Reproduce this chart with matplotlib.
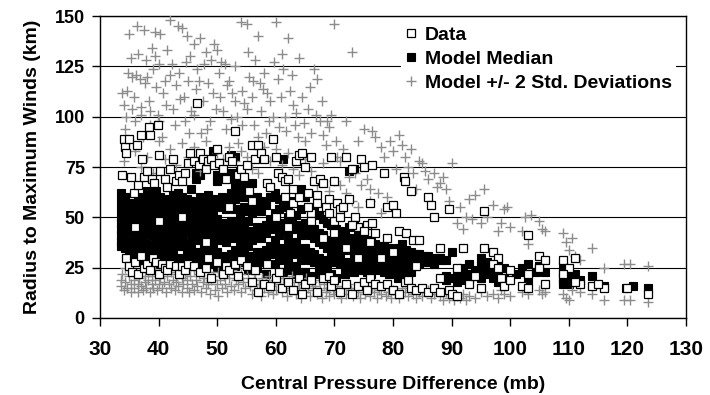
import matplotlib
matplotlib.use("Agg")
import matplotlib.pyplot as plt
from matplotlib.lines import Line2D

plt.rcParams['font.family'] = ['Liberation Sans', 'DejaVu Sans']
plt.rcParams['font.weight'] = 'bold'

# ---------------- data ----------------
# Model median: (pressure difference, radii) read column by column
median_cols = [
    (33.5, [62, 58, 54, 50, 47, 44, 41, 38, 36]),
    (34.2, [60, 55, 52, 48, 45, 39, 35]),
    (35.0, [57, 53, 49, 46, 43, 37, 33, 30]),
    (35.8, [56, 52, 45, 41, 38, 34]),
    (36.5, [60, 55, 51, 47, 40, 36, 33, 29]),
    (37.3, [58, 53, 46, 42, 39, 31]),
    (38.0, [63, 59, 55, 51, 48, 44, 37, 33, 29]),
    (38.8, [61, 57, 49, 45, 41, 34]),
    (39.5, [63, 58, 54, 50, 43, 39, 35, 31, 27]),
    (40.3, [60, 56, 48, 44, 40, 33]),
    (41.0, [57, 53, 49, 42, 38, 35, 30]),
    (41.8, [59, 55, 47, 43, 34, 29]),
    (42.5, [61, 57, 53, 49, 41, 37, 33]),
    (43.3, [62, 58, 50, 46, 42, 38, 30]),
    (44.0, [60, 56, 52, 44, 40, 36, 27]),
    (44.8, [59, 51, 47, 43, 35, 31]),
    (45.5, [64, 58, 54, 46, 42, 38, 34]),
    (46.3, [72, 69, 57, 53, 49, 41, 33, 29]),
    (47.0, [74, 71, 60, 55, 47, 43, 39, 31, 26]),
    (47.8, [58, 54, 50, 42, 38, 34, 27]),
    (48.5, [61, 56, 48, 44, 40, 32, 28]),
    (49.3, [83, 59, 55, 51, 43, 39, 35, 27]),
    (50.0, [71, 68, 57, 49, 45, 41, 33, 29, 25]),
    (50.8, [70, 60, 55, 47, 43, 39, 31, 27]),
    (51.5, [58, 54, 46, 42, 38, 30, 26]),
    (52.3, [81, 72, 62, 56, 48, 44, 40, 32, 28]),
    (53.0, [80, 69, 66, 59, 54, 46, 42, 34, 30, 26]),
    (53.8, [73, 67, 62, 52, 48, 40, 36, 28]),
    (54.5, [68, 64, 60, 55, 46, 42, 34, 30]),
    (55.3, [66, 62, 53, 48, 40, 36, 28, 24]),
    (56.0, [67, 57, 52, 43, 39, 31, 27]),
    (56.8, [60, 55, 45, 41, 33, 29, 25]),
    (57.5, [58, 53, 44, 40, 32, 28]),
    (58.3, [56, 46, 42, 34, 30, 22]),
    (59.0, [65, 60, 49, 44, 36, 32]),
    (59.8, [62, 52, 47, 39, 35, 27]),
    (60.5, [59, 54, 45, 41, 33, 29]),
    (61.3, [79, 57, 47, 43, 35, 31, 23]),
    (62.0, [55, 50, 42, 38, 30, 26]),
    (62.8, [58, 48, 44, 36, 32, 24]),
    (63.5, [51, 46, 38, 34, 26, 22]),
    (64.3, [64, 54, 45, 41, 33, 29]),
    (65.0, [60, 47, 43, 35, 31, 23, 19]),
    (65.8, [55, 45, 41, 33, 29, 21]),
    (66.5, [53, 44, 40, 32, 28]),
    (67.3, [51, 42, 38, 30, 26, 22]),
    (68.0, [49, 41, 37, 29, 25]),
    (68.8, [47, 39, 35, 27, 23]),
    (69.5, [46, 38, 34, 30, 22]),
    (70.3, [44, 36, 32, 28, 20]),
    (71.0, [43, 39, 31, 27]),
    (71.8, [42, 38, 34, 26, 22]),
    (72.5, [73, 45, 40, 36, 28, 24]),
    (73.3, [74, 46, 39, 35, 31, 23]),
    (74.0, [41, 37, 33, 29, 25]),
    (74.8, [40, 36, 32, 28, 24]),
    (75.5, [39, 35, 31, 27, 23]),
    (76.3, [38, 34, 30, 26, 22]),
    (77.0, [37, 33, 29, 25]),
    (77.8, [36, 32, 28, 24]),
    (78.5, [36, 33, 30, 26, 23]),
    (79.3, [35, 32, 29, 25, 22]),
    (80.0, [34, 31, 28, 24]),
    (80.8, [35, 32, 29, 23, 20]),
    (81.5, [37, 33, 30, 26, 22]),
    (82.3, [34, 31, 28, 24, 21]),
    (83.0, [33, 30, 27, 23]),
    (83.8, [32, 29, 26]),
    (84.5, [32, 30, 27]),
    (85.3, [31, 29]),
    (86.0, [31, 28]),
    (87.0, [30, 27]),
    (88.0, [30, 29]),
    (89.0, [29, 21, 19]),
    (90.0, [33, 20]),
    (91.0, [20, 22, 18]),
    (92.0, [21, 19, 25]),
    (93.0, [27, 22, 20]),
    (94.0, [24, 21]),
    (95.0, [26, 30, 20, 23]),
    (96.0, [28, 25, 22]),
    (97.0, [24, 20, 26]),
    (98.0, [27, 22, 18]),
    (99.0, [25, 20]),
    (101.0, [22]),
    (102.0, [25, 23]),
    (103.0, [27, 19]),
    (104.5, [23]),
    (105.0, [26, 24]),
    (106.0, [23]),
    (109.0, [26, 23, 20, 18, 17]),
    (110.0, [22, 19, 17]),
    (111.0, [22]),
    (112.0, [19]),
    (114.0, [21]),
    (116.0, [16]),
    (119.8, [15]),
    (121.0, [16]),
    (123.5, [15]),
]

# Observed data: (pressure difference, radius)
data_pts = [
    (33.8, 71), (34, 89), (34.2, 85), (34.5, 82), (35, 89), (35.3, 70), (35.8, 62), (36.3, 86),
    (36.5, 66), (37, 91), (37.2, 79), (37.5, 70), (38, 73), (38.3, 95), (38.5, 91), (38.8, 69),
    (39.2, 67), (39.8, 96), (40, 81), (40.2, 73), (41, 69), (41.5, 65), (42, 74), (42.5, 79),
    (43, 68), (43.5, 71), (44, 68), (44.5, 72), (45, 77), (45.3, 82), (46, 78), (46.5, 107),
    (46.8, 76), (47, 82), (47.5, 79), (48, 74), (48.5, 78), (49, 79), (49.5, 76), (50, 84),
    (50.3, 77), (51, 74), (51.5, 69), (52, 80), (52.5, 78), (53, 93), (53.5, 71), (54, 74),
    (54.5, 70), (55, 76), (55.5, 63), (56, 86), (56.5, 79), (57, 86), (57.5, 82), (58, 79),
    (58.5, 67), (59, 65), (59.5, 89), (60, 80), (60.3, 72), (61, 70), (61.5, 68), (62, 69),
    (63, 57), (63.5, 78), (64, 81), (64.5, 82), (65, 75), (65.5, 62), (66, 80), (66.5, 68),
    (67, 61), (67.5, 69), (68, 67), (68.5, 55), (69, 59), (69.5, 80), (70, 68), (70.5, 57),
    (71, 54), (71.5, 55), (72, 80), (72.5, 59), (73, 74), (73.5, 50), (74, 45), (74.5, 79),
    (75, 75), (75.5, 46), (76, 57), (76.5, 76), (76.5, 47), (78.5, 72), (79, 55), (80, 56),
    (80.5, 52), (81, 43), (81.8, 70), (82, 68), (82.2, 42), (83, 63), (83.5, 39), (84.5, 39),
    (86, 60), (86.5, 56), (87, 50), (88, 35), (89.5, 54), (92, 35), (95.5, 53), (95.5, 35),
    (97, 33), (98, 30), (103, 41), (105, 31), (106, 29), (109, 29), (111, 30),
    (34.5, 30), (35, 26), (35.5, 23), (36, 28), (36.5, 22), (37, 31), (37.5, 25), (38, 27),
    (38.5, 24), (39, 30), (39.5, 28), (40, 22), (40.5, 27), (41, 25), (41.5, 24), (42, 27),
    (43, 26), (43.5, 22), (44, 26), (44.5, 24), (45, 27), (46, 26), (47, 23), (48, 25),
    (48.5, 30), (49, 20), (50, 28), (51, 22), (51.5, 26), (52, 24), (53, 27), (53.5, 21),
    (54, 29), (55, 26), (56, 18), (56.5, 24), (57, 13), (58, 17), (58.5, 27), (59, 16),
    (60, 20), (60.5, 23), (61, 15), (62, 18), (63, 14), (64, 20), (64.5, 12), (65, 17),
    (66, 19), (67, 13), (68, 20), (69, 21), (69.5, 16), (70, 19), (71, 13), (72, 17),
    (73, 12), (74, 16), (75, 18), (75.5, 14), (76, 20), (77, 17), (78, 16), (79, 17),
    (80, 14), (81, 12), (82, 18), (82.5, 19), (83, 15), (84, 14), (85, 15), (86, 13),
    (87, 15), (88, 13), (89.5, 14), (90, 12), (91, 11), (93, 17), (95, 15), (97, 27),
    (98.5, 20), (99, 16), (100, 24), (102, 16), (103, 15), (105, 25), (106, 17), (110, 25),
    (112, 17), (114, 16), (116, 15), (120, 15), (123.5, 12),
    (36, 45), (40, 48), (44, 50), (48, 38), (52, 55), (56, 58), (60, 50), (62, 45),
    (64, 60), (66, 52), (68, 40), (70, 48), (72, 35), (74, 30), (76, 38), (78, 30),
    (80, 33), (84, 26), (88, 20), (91, 25), (94, 21), (98, 25), (100, 19), (103, 22),
    (109, 22), (111, 18), (115, 17),
    (61.5, 60), (63, 64), (65.5, 55), (67, 57), (69, 52), (71, 50), (73, 46), (75, 43),
    (77, 42), (79, 40), (62.5, 52), (66, 48), (70, 42),
]

# Model +/- 2 standard deviations: (pressure difference, radius)
sd_upper_pts = [
    (33.8, 112), (34, 106), (34.2, 94), (34.5, 100), (34.8, 122), (35, 141), (35.2, 129), (35.5, 120),
    (35.8, 110), (36, 98), (36.3, 145), (36.5, 131), (36.8, 119), (37, 105), (37.3, 90), (37.5, 143),
    (37.8, 128), (38, 120), (38.3, 108), (38.5, 96), (38.8, 134), (39, 124), (39.3, 142), (39.5, 115),
    (39.8, 101), (40, 126), (40.3, 141), (40.5, 90), (40.8, 112), (41, 118), (41.5, 133), (42, 148),
    (42.3, 126), (42.5, 104), (43, 116), (43.3, 145), (43.5, 122), (44, 144), (44.3, 110), (44.5, 98),
    (44.8, 140), (45, 118), (45.3, 130), (45.5, 103), (46, 136), (46.3, 114), (46.5, 124), (47, 139),
    (47.3, 92), (47.5, 108), (48, 132), (48.5, 117), (48.8, 98), (49, 128), (49.5, 136), (50, 133),
    (50.3, 122), (50.5, 110), (51, 103), (51.3, 126), (51.5, 94), (52, 118), (52.5, 112), (53, 125),
    (53.3, 100), (53.5, 87), (54, 147), (54.3, 113), (54.5, 107), (55, 146), (55.3, 132), (55.5, 120),
    (56, 110), (56.3, 96), (56.5, 128), (57, 140), (57.3, 117), (57.5, 103), (58, 122), (58.3, 92),
    (58.5, 112), (59, 108), (59.5, 100), (60, 147), (60.3, 119), (60.5, 95), (61, 131), (61.3, 124),
    (61.5, 100), (62, 139), (62.5, 113), (63, 106), (63.3, 96), (63.5, 102), (64, 129), (64.5, 110),
    (65, 88), (65.5, 104), (66, 92), (66.5, 124), (67, 119), (67.5, 98), (68, 91), (68.5, 86),
    (69, 95), (69.5, 101), (70, 146), (70.3, 88), (70.5, 80), (71, 78), (71.5, 84), (72, 98),
    (72.5, 70), (73, 132), (73.5, 72), (74, 88), (74.5, 66), (75, 94), (75.5, 69), (76, 64),
    (76.5, 93), (77, 90), (77.5, 62), (78, 85), (78.5, 80), (79, 60), (79.5, 88), (80, 83),
    (80.5, 74), (81, 91), (81.5, 86), (82, 80), (82.5, 75), (83, 84), (83.5, 72), (84, 64),
    (84.5, 78), (85, 77), (85.5, 73), (86, 69), (87, 72), (87.5, 65), (88, 67), (88.5, 70),
    (89, 64), (90, 77), (89.5, 58), (91, 47), (91.5, 55), (92, 44), (92.5, 50), (93, 59),
    (93.5, 49), (94, 61), (95, 47), (95.5, 64), (96, 50), (97, 56), (98, 43), (98.5, 47),
    (99, 54), (99.5, 55), (100, 45), (102, 43), (102.5, 50), (103, 37), (103.5, 51), (105, 48),
    (105.5, 44), (106, 43), (109, 42), (109.5, 38), (110, 34), (110.5, 40), (111, 31), (112, 29),
    (114, 35), (116, 25), (119.5, 27), (120.5, 27), (123.5, 26),
    (34, 78), (35, 88), (36, 83), (37, 75), (38, 80), (39, 72), (40, 88), (41, 79),
    (42, 84), (43, 76), (44, 87), (45, 80), (46, 85), (47, 73), (48, 88), (49, 77),
    (50, 82), (51, 79), (52, 85), (53, 78), (54, 83), (55, 80), (56, 74), (57, 72),
    (58, 85), (59, 78), (60, 84), (61, 76), (62, 82), (63, 74), (64, 71), (65, 79),
    (66, 73), (67, 66), (68, 77), (69, 63), (70, 68), (71, 66), (72, 62), (73, 58),
    (74, 55), (76, 58), (78, 52),
    (34.6, 113), (35.4, 104), (36.2, 121), (36.9, 101), (37.7, 117), (38.6, 103), (39.4, 130), (40.1, 98),
    (41.2, 106), (41.9, 121), (42.8, 96), (43.7, 109), (44.6, 127), (45.2, 92), (46.1, 101), (46.9, 118),
    (47.8, 126), (48.3, 94), (49.2, 112), (49.8, 104), (50.7, 127), (51.6, 116), (52.3, 99), (53.1, 108),
    (54.2, 96), (55.1, 104), (56.1, 118), (56.9, 90), (57.8, 114), (58.8, 98), (59.7, 127), (60.8, 110),
    (61.7, 93), (62.7, 121), (63.8, 90), (64.8, 97), (65.8, 115), (66.8, 101), (67.8, 108), (68.8, 98),
]

sd_lower_pts = [
    (33.6, 19), (33.6, 16), (33.8, 22), (34, 14), (34.3, 25), (34.3, 18), (34.6, 15), (34.9, 21),
    (35.2, 17), (35.2, 13), (35.5, 24), (35.8, 19), (35.8, 15), (36.1, 22), (36.4, 17), (36.4, 13),
    (36.7, 20), (37, 16), (37, 24), (37.3, 14), (37.6, 21), (37.6, 18), (37.9, 15), (38.2, 23),
    (38.2, 19), (38.5, 13), (38.8, 17), (38.8, 21), (39.1, 15), (39.4, 24), (39.4, 19), (39.7, 14),
    (40, 22), (40, 17), (40.3, 20), (40.6, 15), (40.9, 25), (40.9, 18), (41.2, 13), (41.5, 21),
    (41.8, 17), (42.1, 23), (42.1, 15), (42.4, 19), (42.7, 14), (43, 22), (43, 18), (43.3, 16),
    (43.6, 24), (43.9, 20), (43.9, 13), (44.2, 17), (44.5, 22), (44.8, 15), (44.8, 19), (45.1, 13),
    (45.4, 21), (45.7, 17), (46, 24), (46, 14), (46.3, 19), (46.6, 16), (46.9, 22), (47.2, 13),
    (47.5, 18), (47.8, 20), (48.1, 15), (48.4, 23), (48.4, 17), (48.7, 12), (49, 19), (49.3, 21),
    (49.6, 14), (49.9, 17), (50.2, 23), (50.2, 11), (50.5, 19), (50.8, 15), (51.1, 21), (51.4, 17),
    (51.7, 13), (52, 20), (52.3, 16), (52.6, 24), (52.9, 14), (53.2, 19), (53.5, 17), (53.8, 27),
    (54.1, 22), (54.1, 13), (54.4, 18), (54.7, 15), (55, 25), (55.3, 20), (55.6, 16), (55.9, 12),
    (56.2, 19), (56.5, 22), (56.8, 14), (57.1, 17), (57.4, 11), (57.7, 20), (58, 15), (58.3, 18),
    (58.6, 13), (58.9, 21), (59.2, 16), (59.5, 12), (59.8, 19), (60.1, 14), (60.4, 22), (60.7, 17),
    (61, 13), (61.3, 20), (61.6, 15), (61.9, 11), (62.2, 18), (62.5, 14), (62.8, 21), (63.1, 16),
    (63.4, 12), (63.7, 19), (64, 15), (64.3, 10), (64.6, 17), (64.9, 13), (65.2, 20), (65.5, 15),
    (65.8, 11), (66.1, 18), (66.4, 14), (66.7, 16), (67, 12), (67.3, 19), (67.6, 14), (67.9, 10),
    (68.2, 17), (68.5, 13), (68.8, 15), (69.1, 11), (69.4, 18), (69.7, 14), (70, 12), (70.4, 16),
    (70.8, 13), (71.2, 10), (71.6, 15), (72, 12), (72.4, 17), (72.8, 14), (73.2, 11), (73.6, 15),
    (74, 13), (74.4, 10), (74.8, 16), (75.2, 12), (75.6, 14), (76, 11), (76.4, 15), (76.8, 13),
    (77.2, 10), (77.6, 14), (78, 12), (78.4, 16), (78.8, 11), (79.2, 13), (79.6, 10), (80, 14),
    (80.5, 12), (81, 10), (81.5, 15), (82, 13), (82.5, 11), (83, 14), (83.5, 12), (84, 10),
    (84.5, 13), (85, 11), (86, 14), (86.5, 10), (87, 12), (88, 11), (88.5, 9), (89, 13),
    (89.5, 10), (90, 12), (90.5, 9), (91, 11), (91.5, 10), (92, 12), (92.5, 9), (93, 11),
    (94, 10), (95, 13), (96, 11), (97, 12), (98, 10), (98.5, 14), (99, 12), (100, 11),
    (102, 13), (103, 12), (105, 14), (105.5, 12), (106, 13), (109, 12), (109.5, 10), (110, 9),
    (110.5, 14), (112, 13), (114, 12), (116, 9), (119.5, 9), (120.5, 9), (123.5, 8),
]

series_labels = ["Data", "Model Median", "Model +/- 2 Std. Deviations"]
x_ticks = [30, 40, 50, 60, 70, 80, 90, 100, 110, 120, 130]
y_ticks = [0, 25, 50, 75, 100, 125, 150]

# ---------------- build ----------------
med_x = [c for c, ys in median_cols for _ in ys]
med_y = [y for c, ys in median_cols for y in ys]
dat_x = [p[0] for p in data_pts]
dat_y = [p[1] for p in data_pts]
sd_pts = sd_upper_pts + sd_lower_pts
sd_x = [p[0] for p in sd_pts]
sd_y = [p[1] for p in sd_pts]

fig = plt.figure(figsize=(7.1, 3.95), dpi=100)
ax = fig.add_axes([0.141, 0.195, 0.825, 0.764])

gray = '#8c8c8c'
ax.plot(med_x, med_y, ls='none', marker='s', ms=5.4, mfc='black', mec='black', mew=0.8, zorder=3)
ax.plot(sd_x, sd_y, ls='none', marker='+', ms=7, mec=gray, mew=1.0, zorder=4)
ax.plot(dat_x, dat_y, ls='none', marker='s', ms=5.2, mfc='white', mec='black', mew=0.9, zorder=5)

ax.set_xlim(30, 130)
ax.set_ylim(0, 150)
ax.set_xticks(x_ticks)
ax.set_yticks(y_ticks)
ax.yaxis.grid(True, color='black', lw=0.8)
ax.set_axisbelow(True)
for s in ax.spines.values():
    s.set_color('black')
    s.set_linewidth(1.0)
ax.tick_params(axis='x', direction='out', length=6, width=1, labelsize=15, pad=10)
ax.tick_params(axis='y', direction='out', length=6, width=1, labelsize=13, pad=5)
for lab in ax.get_xticklabels() + ax.get_yticklabels():
    lab.set_fontweight('bold')

ax.set_xlabel("Central Pressure Difference (mb)", fontsize=14, fontweight='bold', labelpad=12)
ax.set_ylabel("Radius to Maximum Winds (km)", fontsize=14, fontweight='bold', labelpad=10)

handles = [
    Line2D([], [], ls='none', marker='s', ms=5.2, mfc='white', mec='black', mew=0.9),
    Line2D([], [], ls='none', marker='s', ms=5.4, mfc='black', mec='black', mew=0.8),
    Line2D([], [], ls='none', marker='+', ms=7, mec=gray, mew=1.0),
]
leg = ax.legend(handles, series_labels, loc='upper right', bbox_to_anchor=(1.0, 1.012),
                frameon=True, fancybox=False, framealpha=1.0,
                handlelength=0.6, handletextpad=0.45, labelspacing=0.33, borderpad=0.2,
                prop={'weight': 'bold', 'size': 14})
leg.get_frame().set_edgecolor('none')
leg.get_frame().set_facecolor('white')
leg.set_zorder(10)

fig.savefig("out.png", dpi=100)
